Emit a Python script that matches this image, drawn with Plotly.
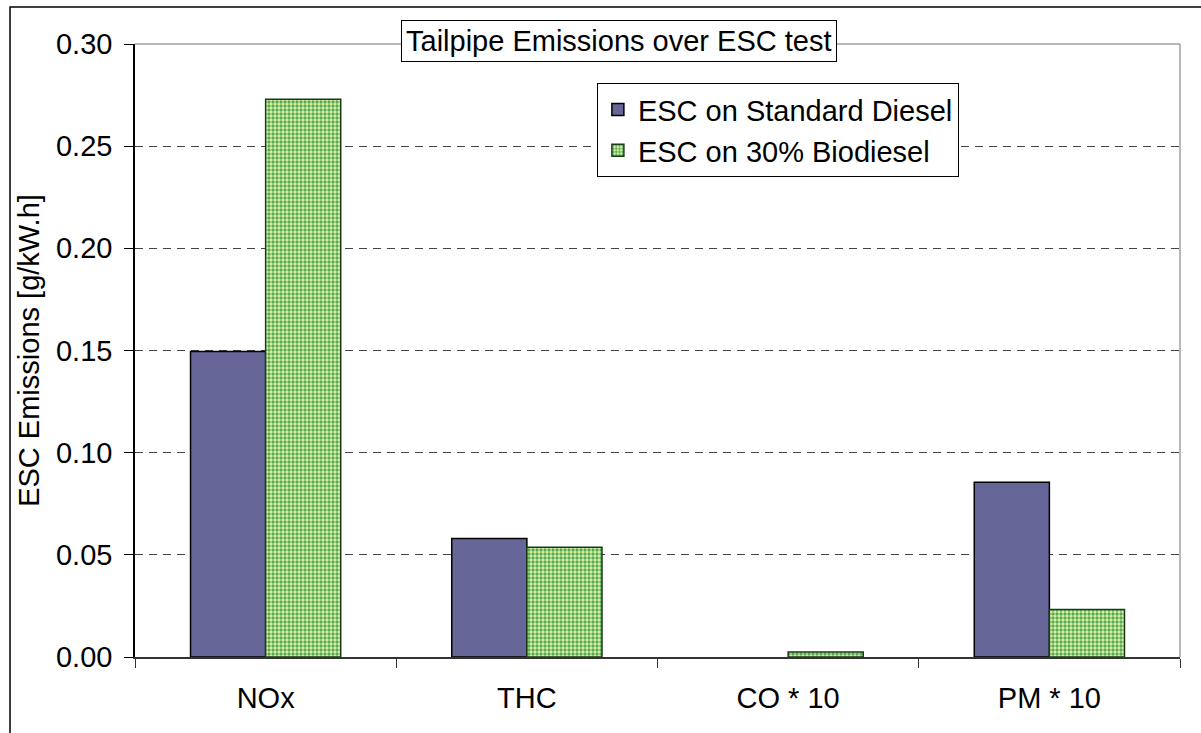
import plotly.graph_objects as go

categories = ["NOx", "THC", "CO * 10", "PM * 10"]
diesel = [0.1495, 0.0580, 0.0, 0.0855]
biodiesel = [0.2730, 0.0537, 0.0025, 0.0232]
series_names = ["ESC on Standard Diesel", "ESC on 30% Biodiesel"]
y_ticks = [0.00, 0.05, 0.10, 0.15, 0.20, 0.25, 0.30]
title_text = "Tailpipe Emissions over ESC test"
y_title = "ESC Emissions [g/kW.h]"

FONT = "Liberation Sans, Arial, sans-serif"
FS = 29

fig = go.Figure()
fig.add_trace(go.Bar(
    x=categories, y=diesel, name=series_names[0],
    marker=dict(color="#666699",
                line=dict(color="black", width=[0 if v == 0 else 1.5 for v in diesel])),
))
fig.add_trace(go.Bar(
    x=categories, y=biodiesel, name=series_names[1],
    marker=dict(color="#a8d890", line=dict(color="#1a3a1a", width=1.5),
                pattern=dict(shape=".", fgcolor="#55ab5a", bgcolor="#e2f4a4",
                             size=4, solidity=0.55, fillmode="replace")),
))

fig.update_layout(
    width=1201, height=733,
    margin=dict(l=135, r=21, t=44, b=76),
    paper_bgcolor="white", plot_bgcolor="white",
    font=dict(family=FONT, size=FS, color="black"),
    barmode="group", bargap=0.425, bargroupgap=0,
    showlegend=True,
    legend=dict(x=0.442, y=0.936, xanchor="left", yanchor="top",
                bordercolor="black", borderwidth=1, bgcolor="white",
                font=dict(size=FS), tracegroupgap=0),
    xaxis=dict(showline=True, linecolor="#333333", linewidth=1.5,
               ticks="outside", ticklen=9, tickcolor="#333333",
               tickson="boundaries", showgrid=False,
               ticklabelstandoff=14, tickfont=dict(size=FS)),
    yaxis=dict(range=[0, 0.30], tickvals=y_ticks,
               ticktext=[f"{v:.2f}" for v in y_ticks],
               showline=True, linecolor="black", linewidth=1.5,
               ticks="outside", ticklen=9, tickcolor="black",
               showgrid=True, gridcolor="#444444", gridwidth=1,
               griddash="8px,6px", zeroline=False,
               ticklabelstandoff=6,
               tickfont=dict(size=FS),
               title=dict(text=y_title, font=dict(size=FS), standoff=8)),
    shapes=[
        dict(type="line", xref="paper", yref="paper", x0=0, x1=1, y0=1, y1=1,
             line=dict(color="#a0a0a0", width=1.5)),
        dict(type="line", xref="paper", yref="paper", x0=1, x1=1, y0=0, y1=1,
             line=dict(color="#a0a0a0", width=1.5)),
        dict(type="rect", xref="paper", yref="paper", x0=-0.1196, x1=1.2,
             y0=-0.4, y1=1.0604, line=dict(color="black", width=1.5),
             layer="below"),
    ],
    annotations=[
        dict(text=title_text, xref="paper", yref="paper", x=0.4627, y=1.0057,
             xanchor="center", yanchor="middle", showarrow=False,
             font=dict(size=FS), bgcolor="white", bordercolor="black",
             borderwidth=1, borderpad=4),
    ],
)

fig.write_html("out.html")
